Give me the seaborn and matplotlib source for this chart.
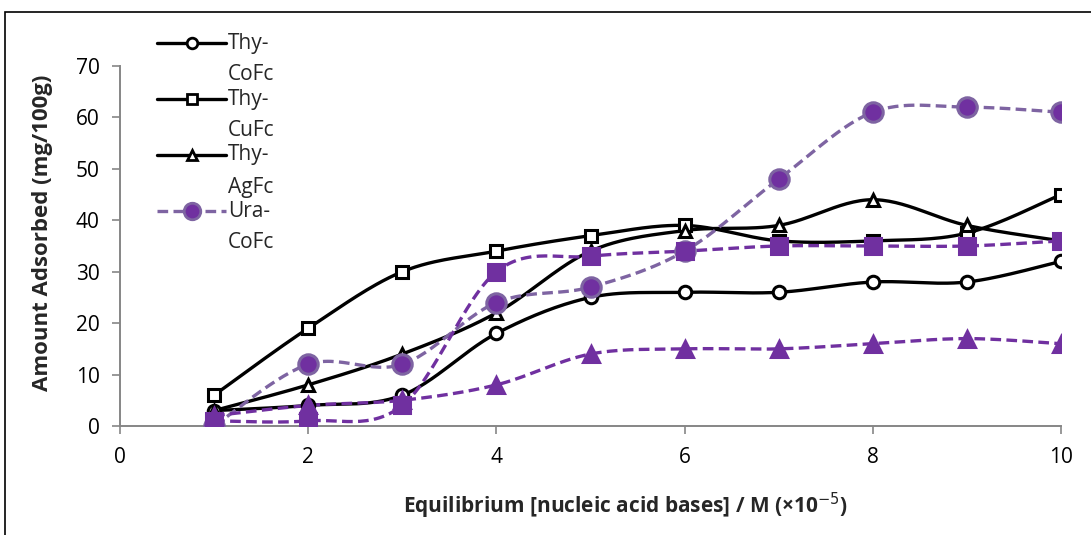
import numpy as np
import pandas as pd
import matplotlib
matplotlib.use("Agg")
import matplotlib.pyplot as plt
import seaborn as sns
from matplotlib.lines import Line2D
from matplotlib.patches import Rectangle

# concentration (x 10^-5 M)
conc = [1, 2, 3, 4, 5, 6, 7, 8, 9, 10]

# amount adsorbed (mg/100g)
thy_cofc = [3, 4, 6, 18, 25, 26, 26, 28, 28, 32]
thy_cufc = [6, 19, 30, 34, 37, 39, 36, 36, 37.5, 45]
thy_agfc = [3, 8, 14, 22, 34, 38, 39, 44, 39, 36]
ura_cofc = [0, 12, 12, 24, 27, 34, 48, 61, 62, 61]
ura_cufc = [1, 1, 4, 30, 33, 34, 35, 35, 35, 36]
ura_agfc = [2, 4, 5, 8, 14, 15, 15, 16, 17, 16]

series_names = ["Thy-CoFc", "Thy-CuFc", "Thy-AgFc", "Ura-CoFc", "Ura-CuFc", "Ura-AgFc"]
series_vals = [thy_cofc, thy_cufc, thy_agfc, ura_cofc, ura_cufc, ura_agfc]

yticks = [0, 10, 20, 30, 40, 50, 60, 70]
xticks = [0, 2, 4, 6, 8, 10]

PURPLE = "#7030A0"
GREYPURPLE = "#7E64A2"
FS = 15
W, H = 1091, 535


def smooth(x, y, n=30):
    # excel-like smoothed line (bezier through points, catmull-rom tangents)
    x = np.asarray(x, float)
    y = np.asarray(y, float)
    px, py = [], []
    t = np.linspace(0, 1, n)
    for i in range(len(x) - 1):
        i0 = max(i - 1, 0)
        i3 = min(i + 2, len(x) - 1)
        c1x = x[i] + (x[i + 1] - x[i0]) / 6
        c1y = y[i] + (y[i + 1] - y[i0]) / 6
        c2x = x[i + 1] - (x[i3] - x[i]) / 6
        c2y = y[i + 1] - (y[i3] - y[i]) / 6
        bx = (1 - t) ** 3 * x[i] + 3 * (1 - t) ** 2 * t * c1x + 3 * (1 - t) * t ** 2 * c2x + t ** 3 * x[i + 1]
        by = (1 - t) ** 3 * y[i] + 3 * (1 - t) ** 2 * t * c1y + 3 * (1 - t) * t ** 2 * c2y + t ** 3 * y[i + 1]
        px.extend(bx)
        py.extend(by)
    return np.array(px), np.array(py)


sns.set_theme(style="white")
plt.rcParams["font.family"] = ["Open Sans", "DejaVu Sans"]

fig = plt.figure(figsize=(W / 100, H / 100), dpi=100)
ax = fig.add_axes([0.110, 0.2037, 0.8625, 0.673])

styles = {
    "Thy-CoFc": dict(color="black", marker="o", mfc="white", mec="black", ms=9, ls="-"),
    "Thy-CuFc": dict(color="black", marker="s", mfc="white", mec="black", ms=9, ls="-"),
    "Thy-AgFc": dict(color="black", marker="^", mfc="white", mec="black", ms=9, ls="-"),
    "Ura-CoFc": dict(color=GREYPURPLE, marker="o", mfc=PURPLE, mec=GREYPURPLE, ms=14, ls="--"),
    "Ura-CuFc": dict(color=PURPLE, marker="s", mfc=PURPLE, mec=PURPLE, ms=12, ls="--"),
    "Ura-AgFc": dict(color=PURPLE, marker="^", mfc=PURPLE, mec=PURPLE, ms=12, ls="--"),
}

# draw purple (dashed) first, black on top of them like the original
order = [3, 4, 5, 0, 1, 2]
for k in order:
    name = series_names[k]
    st = styles[name]
    sx, sy = smooth(conc, series_vals[k])
    dense = pd.DataFrame({"x": sx, "y": sy})
    line_kw = dict(color=st["color"], lw=2.4, zorder=2 + k * 0.1)
    if st["ls"] == "--":
        line_kw["dashes"] = (3.2, 1.6)
    sns.lineplot(data=dense, x="x", y="y", ax=ax, sort=False, estimator=None, **line_kw)
    pts = pd.DataFrame({"x": conc, "y": series_vals[k]})
    ax.plot(pts["x"], pts["y"], ls="none", marker=st["marker"], ms=st["ms"],
            mfc=st["mfc"], mec=st["mec"], mew=2.2, zorder=3 + k * 0.1)

ax.set_xlim(0, 10)
ax.set_ylim(0, 70)
ax.set_xticks(xticks)
ax.set_yticks(yticks)
ax.tick_params(axis="both", labelsize=FS, colors="#868686", length=6, width=1.2,
               direction="out", left=True, bottom=True, labelcolor="black")
ax.tick_params(axis="x", pad=9)
ax.tick_params(axis="y", pad=8.5)
for s in ["top", "right"]:
    ax.spines[s].set_visible(False)
for s in ["left", "bottom"]:
    ax.spines[s].set_color("#868686")
    ax.spines[s].set_linewidth(1.4)

ax.set_xlabel("Equilibrium [nucleic acid bases] / M (\u00d710$^{-5}$)",
              fontsize=FS, fontweight="bold")
ax.xaxis.set_label_coords(0.537, -0.18)
ax.set_ylabel("Amount Adsorbed (mg/100g)", fontsize=16, fontweight="bold")
ax.yaxis.set_label_coords(-0.071, 0.536)

# legend, drawn by hand: only four entries fit and each name wraps onto
# two lines, with the key level with the first line (as Excel does it)
for i, name in enumerate(series_names[:4]):
    st = styles[name]
    ytop = 1 - (43 + i * 56) / H
    ybot = 1 - (43 + i * 56 + 32) / H
    key = Line2D([157 / W, 226 / W], [ytop, ytop], transform=fig.transFigure,
                 color=st["color"], lw=2.4, ls=st["ls"])
    if st["ls"] == "--":
        key.set_dashes((3.2, 1.6))
    mk = Line2D([191.5 / W], [ytop], transform=fig.transFigure, ls="none",
                marker=st["marker"], ms=st["ms"] * 0.85, mfc=st["mfc"], mec=st["mec"], mew=2.0)
    fig.lines.extend([key, mk])
    first, second = name.split("-")
    fig.text(228 / W, ytop, first + "-", fontsize=FS, va="center", ha="left")
    fig.text(228 / W, ybot, second, fontsize=FS, va="center", ha="left")

# outer frame of the chart
fig.patches.append(Rectangle((0.0045, -0.2), 1.2, 1.178, transform=fig.transFigure,
                             fill=False, ec="black", lw=1.2))

fig.savefig("out.png", dpi=100)
